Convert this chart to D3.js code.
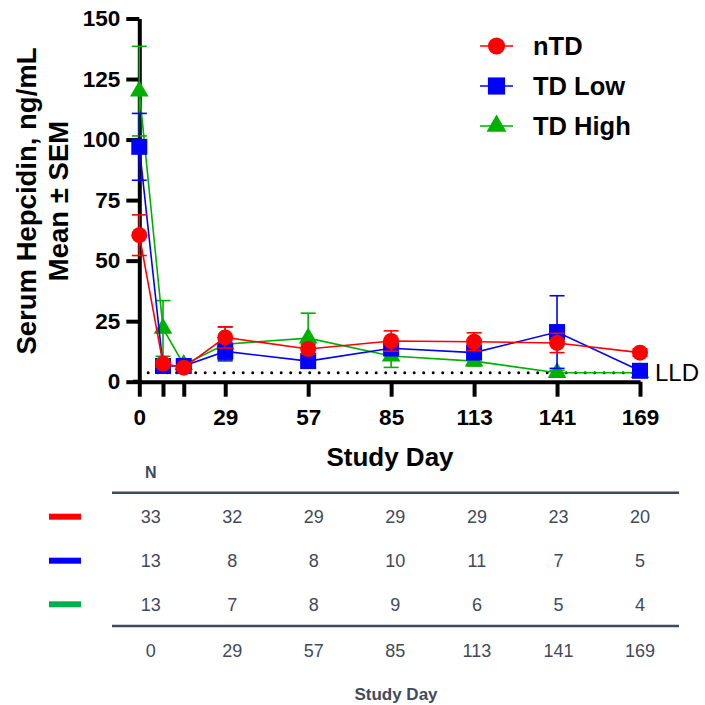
<!DOCTYPE html>
<html><head><meta charset="utf-8">
<script src="https://cdn.jsdelivr.net/npm/d3@7"></script>
<style>body{margin:0;background:#fff}svg{display:block}</style>
</head><body>
<svg id="c" width="705" height="705"></svg>
<script>
// ---- data ----
const days = [0, 8, 15, 29, 57, 85, 113, 141, 169];
const xTickDays = [0, 8, 15, 29, 57, 85, 113, 141, 169];
const xTickLabels = ["0", "", "", "29", "57", "85", "113", "141", "169"];
const yTicks = [0, 25, 50, 75, 100, 125, 150];
const seriesNames = ["nTD", "TD Low", "TD High"];
const ntdMean  = [60.5, 7.5, 5.8, 18.3, 13.5, 16.8, 16.5, 16.0, 12.0];
const ntdSem   = [8.4, 1.5, 1.0, 4.4, 2.0, 4.2, 3.7, 4.0, 1.5];
const lowMean  = [97.0, 6.5, 6.5, 12.5, 8.5, 13.8, 12.0, 20.5, 4.5];
const lowSem   = [13.8, 1.0, 1.0, 3.5, 2.0, 3.0, 2.0, 15.0, 0.5];
const highMean = [120.0, 22.0, 7.0, 15.5, 18.0, 10.6, 8.5, 3.7, 3.7];
const highSem  = [18.5, 11.5, 1.0, 7.0, 10.3, 4.7, 2.0, 1.0, 0.0];
const lld = 3.7;
const tableDays = [0, 29, 57, 85, 113, 141, 169];
const nNTD  = [33, 32, 29, 29, 29, 23, 20];
const nLow  = [13, 8, 8, 10, 11, 7, 5];
const nHigh = [13, 7, 8, 9, 6, 5, 4];

// ---- setup ----
const FONT = "'Liberation Sans', Arial, Helvetica, sans-serif";
const svg = d3.select("#c").style("font-family", FONT);
const x = d3.scaleLinear().domain([0, 169]).range([139.3, 640]);
const y = d3.scaleLinear().domain([0, 150]).range([381.7, 18.5]);

const series = [
  {name: seriesNames[2], mean: highMean, sem: highSem, color: "#00b000", sym: d3.symbolTriangle, size: 150},
  {name: seriesNames[1], mean: lowMean,  sem: lowSem,  color: "#0000ff", sym: d3.symbolSquare,   size: 256},
  {name: seriesNames[0], mean: ntdMean,  sem: ntdSem,  color: "#ff0000", sym: d3.symbolCircle,   size: 201}
];

// LLD dotted line
svg.append("line")
  .attr("x1", x(3)).attr("x2", x(169)).attr("y1", y(lld)).attr("y2", y(lld))
  .attr("stroke", "#000").attr("stroke-width", 3)
  .attr("stroke-linecap", "round").attr("stroke-dasharray", "0,9.5");
svg.append("text").attr("x", 655).attr("y", y(lld) + 8.5)
  .attr("font-size", 24).attr("fill", "#000").text("LLD");

// axes
const yAxis = d3.axisLeft(y).tickValues(yTicks).tickSize(13).tickSizeOuter(0).tickPadding(6);
const gy = svg.append("g").attr("transform", `translate(${x(0)},0)`).call(yAxis);
const xAxis = d3.axisBottom(x).tickValues(xTickDays).tickFormat((d, i) => xTickLabels[i])
  .tickSize(15).tickSizeOuter(0).tickPadding(12);
const gx = svg.append("g").attr("transform", `translate(0,${y(0)})`).call(xAxis);
[gx, gy].forEach(g => {
  g.select(".domain").attr("stroke", "#000").attr("stroke-width", 4);
  g.selectAll(".tick line").attr("stroke", "#000").attr("stroke-width", 4);
  g.selectAll(".tick text").attr("fill", "#000").attr("font-size", 22.5)
    .attr("font-weight", "bold").attr("font-family", FONT);
});
svg.append("line").attr("x1", 133).attr("x2", x(0)).attr("y1", y(0)).attr("y2", y(0))
  .attr("stroke", "#000").attr("stroke-width", 4);

// axis titles
svg.append("text").attr("x", 390).attr("y", 466).attr("text-anchor", "middle")
  .attr("font-size", 26).attr("font-weight", "bold").text("Study Day");
const yt = svg.append("text").attr("transform", "translate(0,201) rotate(-90)")
  .attr("text-anchor", "middle").attr("font-size", 27.5).attr("font-weight", "bold");
yt.append("tspan").attr("x", 0).attr("y", 36).text("Serum Hepcidin, ng/mL");
yt.append("tspan").attr("x", 0).attr("y", 67.5).text("Mean \u00b1 SEM");

// series
series.forEach(s => {
  const g = svg.append("g");
  const pts = days.map((d, i) => ({d, m: s.mean[i], e: s.sem[i]}));
  // error bars
  pts.filter(p => p.e > 0).forEach(p => {
    g.append("line").attr("x1", x(p.d)).attr("x2", x(p.d))
      .attr("y1", y(p.m - p.e)).attr("y2", y(p.m + p.e))
      .attr("stroke", s.color).attr("stroke-width", 1.6);
    [p.m - p.e, p.m + p.e].forEach(v => {
      g.append("line").attr("x1", x(p.d) - 7.5).attr("x2", x(p.d) + 7.5)
        .attr("y1", y(v)).attr("y2", y(v))
        .attr("stroke", s.color).attr("stroke-width", 1.6);
    });
  });
  g.append("path").datum(pts)
    .attr("d", d3.line().x(p => x(p.d)).y(p => y(p.m)))
    .attr("fill", "none").attr("stroke", s.color).attr("stroke-width", 1.6);
  g.selectAll("path.m").data(pts).enter().append("path").attr("class", "m")
    .attr("transform", p => `translate(${x(p.d)},${y(p.m)})`)
    .attr("d", d3.symbol().type(s.sym).size(s.size))
    .attr("fill", s.color);
});

// legend
const legendY = [46, 86, 126];
[series[2], series[1], series[0]].forEach((s, i) => {
  const g = svg.append("g").attr("transform", `translate(0,${legendY[i]})`);
  g.append("line").attr("x1", 480).attr("x2", 513).attr("y1", 0).attr("y2", 0)
    .attr("stroke", s.color).attr("stroke-width", 1.6);
  g.append("path").attr("transform", "translate(496.5,0)")
    .attr("d", d3.symbol().type(s.sym).size(s.size * 1.15)).attr("fill", s.color);
  g.append("text").attr("x", 533).attr("y", 9).attr("font-size", 25.5)
    .attr("font-weight", "bold").attr("fill", "#000").text(s.name);
});

// ---- N table ----
const slate = "#414a5a";
const tx = d3.scalePoint().domain(tableDays).range([150.7, 640]);
svg.append("text").attr("x", tx(0)).attr("y", 478).attr("text-anchor", "middle")
  .attr("font-size", 16).attr("font-weight", "bold").attr("fill", slate).text("N");
[492.7, 626].forEach(ly => svg.append("line").attr("x1", 112).attr("x2", 679)
  .attr("y1", ly).attr("y2", ly).attr("stroke", slate).attr("stroke-width", 2.6));
const rows = [
  {vals: nNTD, color: "#ff0000", cy: 516.7},
  {vals: nLow, color: "#0000ff", cy: 560.7},
  {vals: nHigh, color: "#00b050", cy: 604.3}
];
rows.forEach(r => {
  svg.append("rect").attr("x", 49).attr("y", r.cy - 3).attr("width", 32).attr("height", 6)
    .attr("fill", r.color);
  svg.selectAll(null).data(tableDays).enter().append("text")
    .attr("x", d => tx(d)).attr("y", r.cy + 6.5).attr("text-anchor", "middle")
    .attr("font-size", 18).attr("fill", slate).text((d, i) => r.vals[i]);
});
svg.selectAll(null).data(tableDays).enter().append("text")
  .attr("x", d => tx(d)).attr("y", 656.5).attr("text-anchor", "middle")
  .attr("font-size", 18).attr("fill", slate).text(d => d);
svg.append("text").attr("x", 396).attr("y", 700).attr("text-anchor", "middle")
  .attr("font-size", 17).attr("font-weight", "bold").attr("fill", slate).text("Study Day");
</script>
</body></html>
